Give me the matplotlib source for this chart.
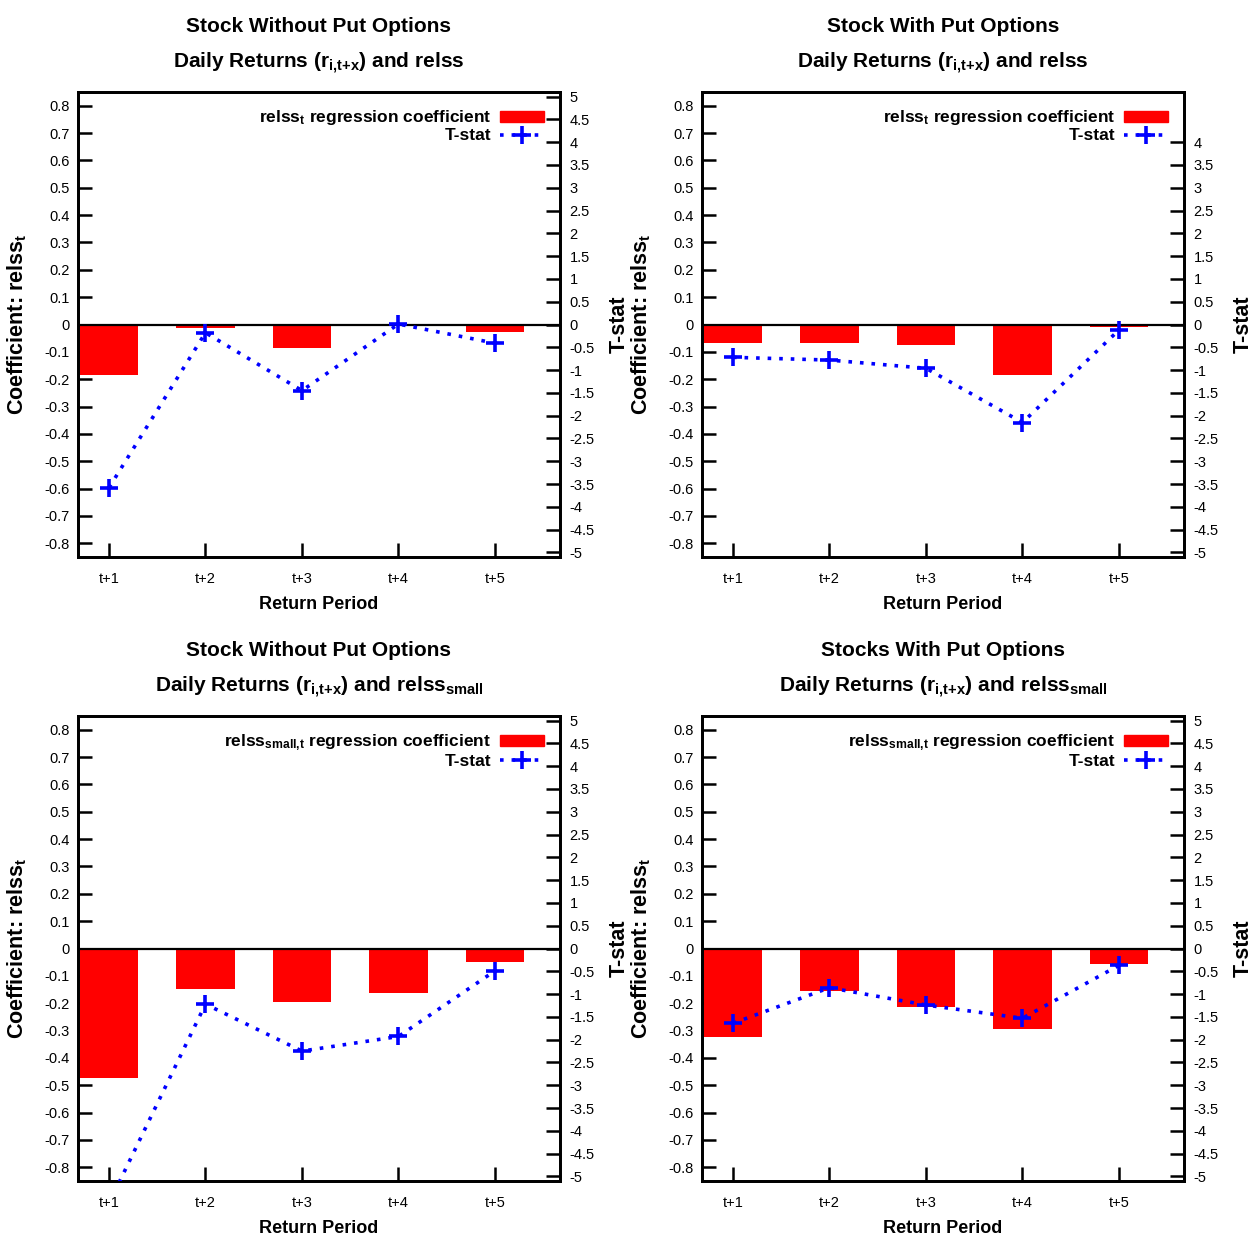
import numpy as np
import matplotlib
matplotlib.use('Agg')
import matplotlib.pyplot as plt
from matplotlib.patches import Patch
from matplotlib.lines import Line2D

fonts = ['Liberation Sans', 'DejaVu Sans']
plt.rcParams['font.family'] = fonts
plt.rcParams['mathtext.default'] = 'regular'

# data
periods = ['t+1', 't+2', 't+3', 't+4', 't+5']

coef_wo = [-0.186, -0.013, -0.086, -0.004, -0.026]
tstat_wo = [-3.58, -0.18, -1.45, 0.01, -0.41]

coef_w = [-0.066, -0.067, -0.075, -0.186, -0.010]
tstat_w = [-0.72, -0.78, -0.96, -2.15, -0.12]

coef_wo_small = [-0.474, -0.148, -0.197, -0.164, -0.049]
tstat_wo_small = [-5.59, -1.22, -2.25, -1.93, -0.49]

coef_w_small = [-0.322, -0.157, -0.213, -0.296, -0.058]
tstat_w_small = [-1.64, -0.86, -1.24, -1.53, -0.37]

sub = r'$_{i{,}t{+}x}$'
titles = [
    ('Stock Without Put Options', 'Daily Returns (r' + sub + ') and relss'),
    ('Stock With Put Options', 'Daily Returns (r' + sub + ') and relss'),
    ('Stock Without Put Options', 'Daily Returns (r' + sub + r') and relss$_{small}$'),
    ('Stocks With Put Options', 'Daily Returns (r' + sub + r') and relss$_{small}$'),
]
legend_labels = [r'relss$_t$ regression coefficient'] * 2 + \
                [r'relss$_{small{,}t}$ regression coefficient'] * 2
coefs = [coef_wo, coef_w, coef_wo_small, coef_w_small]
tstats = [tstat_wo, tstat_w, tstat_wo_small, tstat_w_small]
tstat_top = [5, 4, 5, 5]


def fmt(v):
    v = round(float(v), 2)
    if v == 0:
        return '0'
    return '%g' % v


W, H = 1253, 1243
fig = plt.figure(figsize=(W / 100, H / 100), dpi=100)

# axes boxes in pixels: left, top
boxes = [(78, 92), (702, 92), (78, 716), (702, 716)]
bw, bh = 482, 465

x = np.arange(1, 6)
for i in range(4):
    left, top = boxes[i]
    ax = fig.add_axes([left / W, 1 - (top + bh) / H, bw / W, bh / H])
    ax2 = ax.twinx()

    ax.bar(x, coefs[i], width=0.61, color='#ff0000', zorder=2)
    ax.axhline(0, color='black', lw=1.6, zorder=3)
    ax2.plot(x, tstats[i], color='#0000ff', ls=(0, (1, 2.2)), lw=2.6,
             marker='+', ms=13, mew=2.6, zorder=4)

    ax.set_xlim(0.679, 5.674)
    ax.set_ylim(-0.85, 0.85)
    ax2.set_ylim(-5.1, 5.1)

    ax.set_xticks(x)
    ax.set_xticklabels(periods)
    yl = np.round(np.arange(-0.8, 0.81, 0.1), 1)
    ax.set_yticks(yl)
    ax.set_yticklabels([fmt(v) for v in yl])
    r = np.arange(-5, tstat_top[i] + 0.01, 0.5)
    ax2.set_yticks(r)
    ax2.set_yticklabels([fmt(v) for v in r])

    ax.tick_params(axis='both', direction='in', length=10, width=1.8, labelsize=10.5)
    ax.tick_params(axis='y', pad=6)
    ax.tick_params(axis='x', pad=11)
    ax2.tick_params(axis='y', direction='in', length=10, width=1.8, labelsize=10.5, pad=7)
    for a in (ax, ax2):
        for s in a.spines.values():
            s.set_linewidth(2)

    ax.set_ylabel(r'Coefficient: relss$_t$', fontweight='bold', fontsize=15.5)
    ax.yaxis.set_label_coords(-0.102, 0.5)
    ax2.set_ylabel('T-stat', fontweight='bold', fontsize=15.5)
    ax2.yaxis.set_label_coords(1.102, 0.5)
    ax.set_xlabel('Return Period', fontsize=13, fontweight='bold')
    ax.xaxis.set_label_coords(0.5, -0.084)

    ax.text(0.5, 1.129, titles[i][0], transform=ax.transAxes, ha='center',
            va='baseline', fontsize=15, fontweight='bold')
    ax.text(0.5, 1.052, titles[i][1], transform=ax.transAxes, ha='center',
            va='baseline', fontsize=15, fontweight='bold')

    handles = [Patch(color='#ff0000'),
               Line2D([], [], color='#0000ff', ls=(0, (1, 2.2)), lw=2.6,
                      marker='+', ms=13, mew=2.6)]
    ax2.legend(handles, [legend_labels[i], 'T-stat'], loc='upper right',
               frameon=False, markerfirst=False,
               prop={'weight': 'bold', 'size': 12.5},
               handlelength=2.5, handleheight=0.6, handletextpad=0.5,
               labelspacing=0.05, borderaxespad=0.55)

fig.savefig('out.png', dpi=100)
